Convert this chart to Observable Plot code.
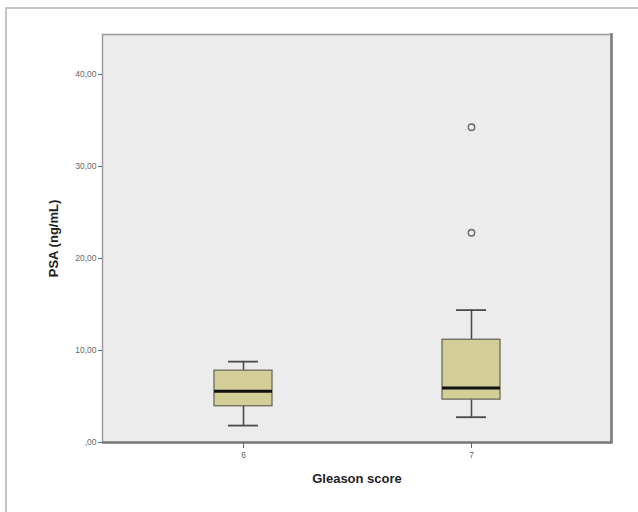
<!DOCTYPE html>
<html>
<head>
<meta charset="utf-8">
<script src="https://cdn.jsdelivr.net/npm/d3@7"></script>
<script src="https://cdn.jsdelivr.net/npm/@observablehq/plot@0.6"></script>
<style>
  html, body { margin: 0; padding: 0; background: white; }
  #wrap { position: relative; width: 638px; height: 512px; overflow: hidden; }
  #border { position: absolute; left: 5px; top: 7px; width: 660px; height: 540px;
            border-top: 2px solid #c4c4c4; border-left: 2px solid #c4c4c4; pointer-events: none; }
</style>
</head>
<body>
<div id="wrap"><div id="border"></div></div>
<script>
const groups = ["6", "7"];
const mins = [1.84, 2.75];
const q1s = [3.94, 4.66];
const medians = [5.56, 5.93];
const q3s = [7.81, 11.17];
const maxs = [8.79, 14.39];
const outlierGroups = ["7", "7"];
const outlierValues = [34.27, 22.8];
const yTicks = [0, 10, 20, 30, 40];
const yTitle = "PSA (ng/mL)";
const xTitle = "Gleason score";

const stats = groups.map((g, i) => ({g, min: mins[i], q1: q1s[i], med: medians[i], q3: q3s[i], max: maxs[i]}));
const outliers = outlierGroups.map((g, i) => ({g, v: outlierValues[i]}));

const fmt = d => (d === 0 ? ",00" : d + ",00");

const chart = Plot.plot({
  width: 638,
  height: 512,
  marginLeft: 102,
  marginRight: 27,
  marginTop: 34,
  marginBottom: 70,
  style: {fontFamily: "'Liberation Sans', Arial, sans-serif", background: "transparent"},
  x: {type: "band", domain: groups, paddingInner: 0.746, paddingOuter: 0.489, align: 0.5},
  y: {domain: [0, 44.35]},
  marks: [
    Plot.frame({fill: "#ececec", stroke: "#9a9a9a", strokeWidth: 1.5}),
    Plot.ruleY([0], {stroke: "#7a7a7a", strokeWidth: 2.5}),
    Plot.frame({anchor: "right", stroke: "#7a7a7a", strokeWidth: 2.5}),
    Plot.axisY({ticks: yTicks, tickFormat: fmt, tickSize: 4, tickPadding: 2, fontSize: 8.5, color: "#666", label: null}),
    Plot.axisX({tickSize: 6, tickPadding: 3, fontSize: 8.5, color: "#666", label: null}),
    Plot.ruleX(stats, {x: "g", y1: "min", y2: "q1", stroke: "#4a4a4a", strokeWidth: 1.6}),
    Plot.ruleX(stats, {x: "g", y1: "q3", y2: "max", stroke: "#4a4a4a", strokeWidth: 1.6}),
    Plot.tickY(stats, {x: "g", y: "min", insetLeft: 14, insetRight: 14, stroke: "#4a4a4a", strokeWidth: 1.8}),
    Plot.tickY(stats, {x: "g", y: "max", insetLeft: 14, insetRight: 14, stroke: "#4a4a4a", strokeWidth: 1.8}),
    Plot.barY(stats, {x: "g", y1: "q1", y2: "q3", fill: "#d3ce97", stroke: "#6a6a5a", strokeWidth: 1.3}),
    Plot.tickY(stats, {x: "g", y: "med", stroke: "#111", strokeWidth: 3}),
    Plot.dot(outliers, {x: "g", y: "v", r: 3.2, stroke: "#6a6a6a", strokeWidth: 1.4, fill: "none"}),
    Plot.text([yTitle], {text: d => d, frameAnchor: "left", dx: -49, rotate: -90, textAnchor: "middle", lineAnchor: "middle", fontWeight: "bold", fontSize: 13, fill: "#222"}),
    Plot.text([xTitle], {text: d => d, frameAnchor: "bottom", dy: 36, textAnchor: "middle", lineAnchor: "middle", fontWeight: "bold", fontSize: 13, fill: "#222"})
  ]
});
chart.style.position = "absolute";
chart.style.left = "0";
chart.style.top = "0";
document.getElementById("wrap").appendChild(chart);
</script>
</body>
</html>
